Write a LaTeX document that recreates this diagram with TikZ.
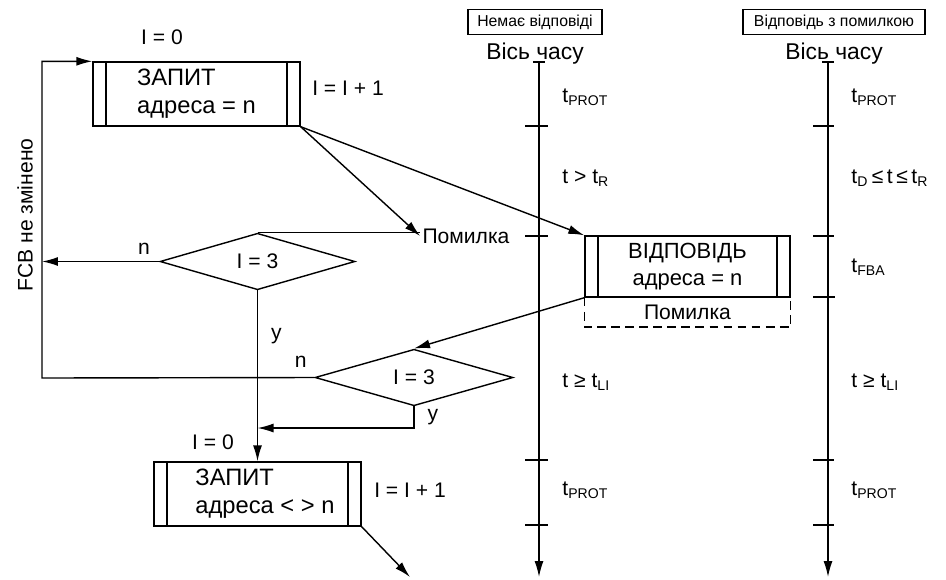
\documentclass[tikz,border=0pt]{standalone}
\usepackage{fontspec}
\setmainfont{Liberation Sans}
\usepackage{tikz}
\usetikzlibrary{shapes.geometric,arrows.meta,positioning}

\begin{document}
\begin{tikzpicture}
 [x=0.02cm, y=-0.02cm, line width=0.8pt, >={Latex[length=3.2mm,width=1.8mm]},
  font=\fontsize{12}{15}\selectfont,
  proc node/.style={rectangle, draw, minimum width=4.14cm, minimum height=1.28cm, align=left,
   font=\fontsize{13.5}{16}\selectfont,
   path picture={\draw ([xshift=0.26cm]path picture bounding box.north west) -- ([xshift=0.26cm]path picture bounding box.south west)
    ([xshift=-0.26cm]path picture bounding box.north east) -- ([xshift=-0.26cm]path picture bounding box.south east);}},
  test node/.style={diamond, draw, inner sep=0pt, minimum width=3.96cm, minimum height=1.02cm},
  head node/.style={rectangle, draw, font=\fontsize{9}{10}\selectfont, inner sep=2pt, minimum height=0.5cm},
  text node/.style={inner sep=1pt}]

\useasboundingbox (0,0) rectangle (946,579);

\node[text node] (init1) at (162,37) {I = 0};
\node[proc node] (req1) at (196.5,94) {ЗАПИТ\\адреса = n};
\node[text node] (inc1) at (348,88) {I = I + 1};
\node[test node, minimum width=3.9cm] (test1) at (257.5,261.5) {I = 3};
\node[text node] (err1) at (466,236) {Помилка};

\node[proc node, minimum width=4.1cm, minimum height=1.22cm, align=center, font=\fontsize{12.5}{15}\selectfont] (resp) at (687.5,266.5) {ВІДПОВІДЬ\\адреса = n};
\node[text node, minimum width=4.1cm, minimum height=0.56cm, below=0pt of resp] (err2) {Помилка};

\node[test node] (test2) at (414,377.5) {I = 3};
\node[text node] (init2) at (213,442) {I = 0};
\node[proc node] (req2) at (257.5,494) {\hspace*{0.3cm}ЗАПИТ\\\hspace*{0.3cm}адреса < > n};
\node[text node] (inc2) at (410,490) {I = I + 1};

\node[text node, rotate=90] (fcb) at (25,215) {FCB не змінено};

\node[head node, minimum width=2.68cm] (nohdr) at (535,22) {Немає відповіді};
\node[head node, minimum width=3.64cm] (errhdr) at (834,22) {Відповідь з помилкою};
\node[text node, font=\fontsize{13}{15}\selectfont] (axis1) [below=3pt of nohdr] {Вісь часу};
\node[text node, font=\fontsize{13}{15}\selectfont] (axis2) [below=3pt of errhdr] {Вісь часу};

\coordinate (ax1top) at (539,62);
\coordinate (ax1bot) at (539,577);
\coordinate (ax2top) at (828,62);
\coordinate (ax2bot) at (828,577);
\coordinate (loopbot) at (42,378);
\coordinate (join) at (257.5,428);
\coordinate (out) at (410,577);

\node[text node, anchor=west] (a1) at (560,97) {t\textsubscript{PROT}};
\node[text node, anchor=west] (a2) at (560,178) {t > t\textsubscript{R}};
\node[text node, anchor=west] (a3) at (560,382) {t ≥ t\textsubscript{LI}};
\node[text node, anchor=west] (a4) at (560,490) {t\textsubscript{PROT}};

\node[text node, anchor=west] (b1) at (849,97) {t\textsubscript{PROT}};
\node[text node, anchor=west] (b2) at (849,178) {t\textsubscript{D}\,≤\,t\,≤\,t\textsubscript{R}};
\node[text node, anchor=west] (b3) at (849,267) {t\textsubscript{FBA}};
\node[text node, anchor=west] (b4) at (849,382) {t ≥ t\textsubscript{LI}};
\node[text node, anchor=west] (b5) at (849,490) {t\textsubscript{PROT}};

\draw[->] (ax1top) -- (ax1bot);
\draw[->] (ax2top) -- (ax2bot);
\draw (533,62) -- (545,62) (525,126) -- (548,126) (525,236) -- (548,236)
      (525,460) -- (548,460) (525,525) -- (548,525);
\draw (822,62) -- (834,62) (813,126) -- (834,126) (813,236) -- (834,236)
      (813,297) -- (835,297) (813,460) -- (834,460) (813,525) -- (834,525);

\draw[->] (test2.west) -- node[pos=0.05, above=2pt] {n} (loopbot) |- (req1.north west);
\draw[->] (test1.west) -- node[pos=0.13, above] {n} (test1.west -| loopbot);
\draw[->] (req1.south east) -- (err1.west);
\draw (test1.north) -- (test1.north -| err1.west);
\draw[->] (req1.south east) -- (resp.north west);
\draw[dashed, dash pattern=on 5pt off 3pt] (resp.south west) -- (err2.south west) -- (err2.south east) -- (resp.south east);
\draw[->] (resp.south west) -- (test2.north);
\draw[->] (test1.south) -- node[pos=0.27, right=4pt] {y} (test1.south |- req2.north);
\draw[->] (test2.south) |- node[pos=0.25, right=4pt] {y} (join);
\draw[->] (req2.south east) -- (out);

\end{tikzpicture}
\end{document}
